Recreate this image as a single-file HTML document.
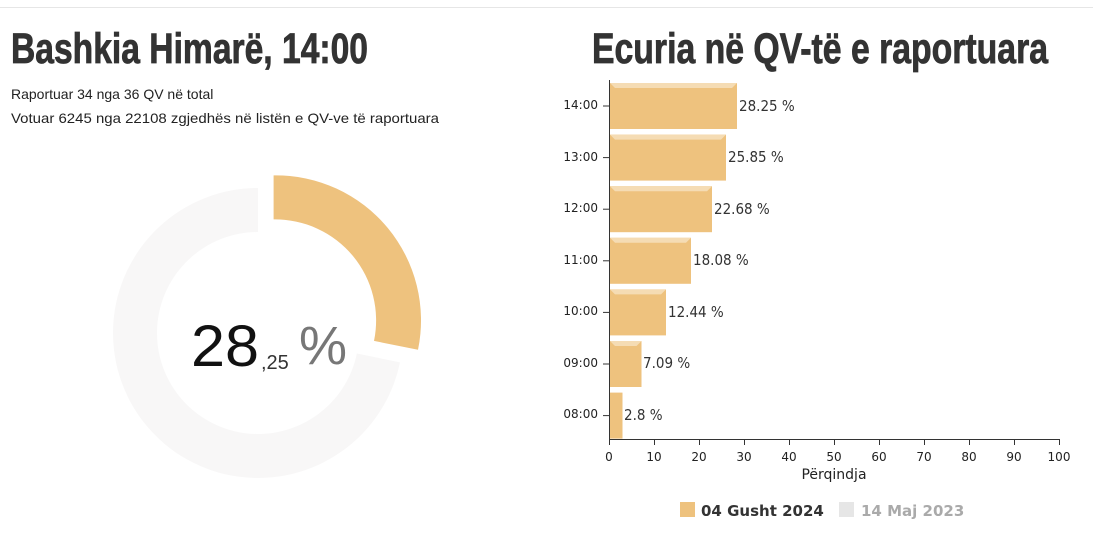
<!DOCTYPE html>
<html><head><meta charset="utf-8"><style>
html,body{margin:0;padding:0;background:#fff;}
svg{display:block}
</style></head><body>
<svg width="1093" height="535" xmlns="http://www.w3.org/2000/svg">
<rect x="0" y="0" width="1093" height="535" fill="#fff"/>
<line x1="0" y1="7.5" x2="1093" y2="7.5" stroke="#e6e6e6" stroke-width="1"/>
<text x="11" y="63" font-family="Liberation Sans Narrow, Liberation Sans, sans-serif" font-weight="bold" font-size="43" fill="#333" stroke="#333" stroke-width="0.8" textLength="357" lengthAdjust="spacingAndGlyphs">Bashkia Himarë, 14:00</text>
<text x="592" y="63" font-family="Liberation Sans Narrow, Liberation Sans, sans-serif" font-weight="bold" font-size="43" fill="#333" stroke="#333" stroke-width="0.8" textLength="456" lengthAdjust="spacingAndGlyphs">Ecuria në QV-të e raportuara</text>
<text x="11" y="99" font-family="Liberation Sans, sans-serif" font-size="14" fill="#222">Raportuar 34 nga 36 QV në total</text>
<text x="11" y="123" font-family="Liberation Sans, sans-serif" font-size="14" fill="#222" textLength="428" lengthAdjust="spacingAndGlyphs">Votuar 6245 nga 22108 zgjedhës në listën e QV-ve të raportuara</text>

<path d="M400,362.4 A145,145 0 1 1 258,188 L258,232 A101,101 0 1 0 356.9,353.5 Z" fill="#f8f7f7"/>
<path d="M273.6,175.4 A145,145 0 0 1 418,349.8 L374,340.9 A101,101 0 0 0 273.6,219.4 Z" fill="#eec27e"/>
<text x="191" y="366" font-family="Liberation Sans, sans-serif" font-size="58" fill="#111" textLength="68" lengthAdjust="spacingAndGlyphs">28</text>
<text x="261" y="369" font-family="Liberation Sans, sans-serif" font-size="20" fill="#333">,25</text>
<text x="299" y="364" font-family="Liberation Sans, sans-serif" font-size="54" fill="#777">%</text>

<g font-family="DejaVu Sans, sans-serif" font-size="12" fill="#222" text-anchor="end">
<text x="598" y="109">14:00</text>
<text x="598" y="161">13:00</text>
<text x="598" y="212">12:00</text>
<text x="598" y="264">11:00</text>
<text x="598" y="315">10:00</text>
<text x="598" y="367">09:00</text>
<text x="598" y="418">08:00</text>
</g>
<g stroke="#333" stroke-width="1">
<line x1="609.5" y1="80" x2="609.5" y2="440"/>
<line x1="609" y1="439.5" x2="1060" y2="439.5"/>
<line x1="603" y1="106" x2="609" y2="106"/>
<line x1="603" y1="157.6" x2="609" y2="157.6"/>
<line x1="603" y1="209.2" x2="609" y2="209.2"/>
<line x1="603" y1="260.8" x2="609" y2="260.8"/>
<line x1="603" y1="312.4" x2="609" y2="312.4"/>
<line x1="603" y1="364" x2="609" y2="364"/>
<line x1="603" y1="415.6" x2="609" y2="415.6"/>
<line x1="609.5" y1="440" x2="609.5" y2="445"/><line x1="654.5" y1="440" x2="654.5" y2="445"/><line x1="699.5" y1="440" x2="699.5" y2="445"/><line x1="744.5" y1="440" x2="744.5" y2="445"/><line x1="789.5" y1="440" x2="789.5" y2="445"/><line x1="834.5" y1="440" x2="834.5" y2="445"/><line x1="879.5" y1="440" x2="879.5" y2="445"/><line x1="924.5" y1="440" x2="924.5" y2="445"/><line x1="969.5" y1="440" x2="969.5" y2="445"/><line x1="1014.5" y1="440" x2="1014.5" y2="445"/><line x1="1059.5" y1="440" x2="1059.5" y2="445"/>
</g>
<g font-family="DejaVu Sans, sans-serif" font-size="12" fill="#222" text-anchor="middle">
<text x="609" y="461">0</text><text x="654" y="461">10</text><text x="699" y="461">20</text><text x="744" y="461">30</text><text x="789" y="461">40</text><text x="834" y="461">50</text><text x="879" y="461">60</text><text x="924" y="461">70</text><text x="969" y="461">80</text><text x="1014" y="461">90</text><text x="1059" y="461">100</text>
<text x="834" y="479" font-size="14">Përqindja</text>
</g>

<g fill="#eec27e">
<rect x="610" y="83" width="127" height="46"/>
<rect x="610" y="134.6" width="116" height="46"/>
<rect x="610" y="186.2" width="102" height="46"/>
<rect x="610" y="237.8" width="81" height="46"/>
<rect x="610" y="289.4" width="56" height="46"/>
<rect x="610" y="341" width="31.5" height="46"/>
<rect x="610" y="392.6" width="12.5" height="46"/>
</g>
<g fill="#f5dcb4">
<polygon points="610,83 737,83 732,88 615,88"/>
<polygon points="610,134.6 726,134.6 721,139.6 615,139.6"/>
<polygon points="610,186.2 712,186.2 707,191.2 615,191.2"/>
<polygon points="610,237.8 691,237.8 686,242.8 615,242.8"/>
<polygon points="610,289.4 666,289.4 661,294.4 615,294.4"/>
<polygon points="610,341 641.5,341 636.5,346 615,346"/>
</g>
<g font-family="DejaVu Sans Condensed, DejaVu Sans, sans-serif" font-size="15" fill="#333">
<text x="739" y="111">28.25 %</text>
<text x="728" y="162">25.85 %</text>
<text x="714" y="214">22.68 %</text>
<text x="693" y="265">18.08 %</text>
<text x="668" y="317">12.44 %</text>
<text x="643" y="368">7.09 %</text>
<text x="624" y="420">2.8 %</text>
</g>

<rect x="680" y="502" width="15" height="15" fill="#eec27e"/>
<text x="701" y="516" font-family="DejaVu Sans, sans-serif" font-weight="bold" font-size="15" fill="#333">04 Gusht 2024</text>
<rect x="839" y="502" width="15" height="15" fill="#e6e6e6"/>
<text x="861" y="516" font-family="DejaVu Sans, sans-serif" font-weight="bold" font-size="15" fill="#aaa">14 Maj 2023</text>
</svg>
</body></html>
